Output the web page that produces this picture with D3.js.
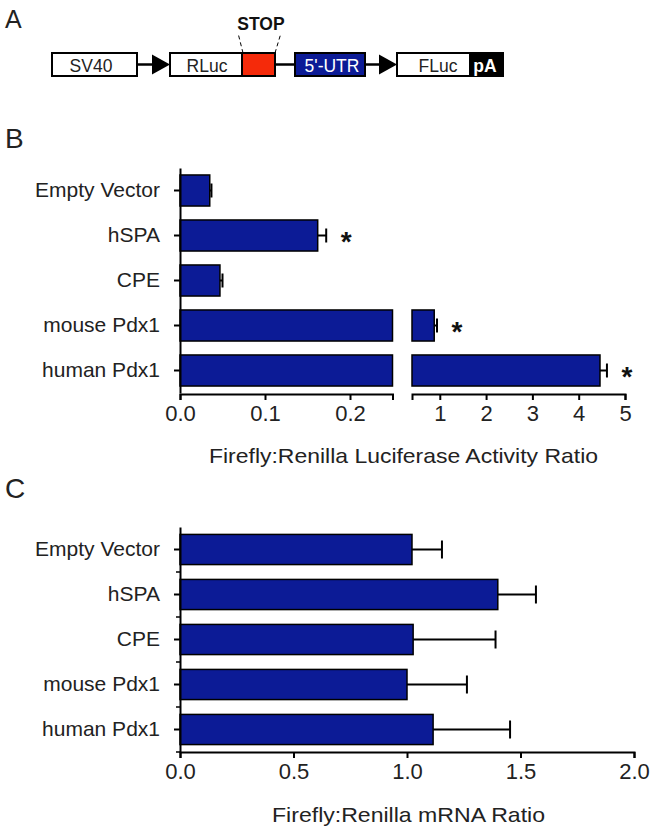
<!DOCTYPE html>
<html><head><meta charset="utf-8">
<script src="https://cdn.jsdelivr.net/npm/d3@7"></script>
<style>body{margin:0;background:#fff}svg{display:block;font-family:"Liberation Sans",Arial,sans-serif}</style>
</head><body><svg id="c" width="656" height="830"></svg>
<script>
const categories = ["Empty Vector","hSPA","CPE","mouse Pdx1","human Pdx1"];
const activityMean = [0.035, 0.162, 0.047, 0.88, 4.46];
const activityErr  = [0.002, 0.010, 0.003, 0.06, 0.15];
const activitySig  = [false, true, false, true, true];
const activityTicksLow = [0.0, 0.1, 0.2];
const activityTicksHigh = [1, 2, 3, 4, 5];
const mrnaMean = [1.022, 1.40, 1.027, 1.00, 1.115];
const mrnaErr  = [0.132, 0.168, 0.363, 0.264, 0.339];
const mrnaTicks = [0.0, 0.5, 1.0, 1.5, 2.0];
const constructParts = ["SV40","RLuc","STOP","5'-UTR","FLuc","pA"];

const BLUE = "#0c1b96";
const svg = d3.select("#c");

// Panel labels
[["A",5,28,25],["B",5,148,28],["C",5,498,28]].forEach(([t,x,y,s])=>{
  svg.append("text").attr("x",x).attr("y",y).attr("font-size",s).attr("fill","#222").text(t);
});

// ---------- Panel A: construct ----------
const A = svg.append("g");
const by0 = 53, by1 = 76, bym = (by0+by1)/2;
function line(x1,y1,x2,y2,w=2.5,dash=null){
  const l=A.append("line").attr("x1",x1).attr("y1",y1).attr("x2",x2).attr("y2",y2).attr("stroke","#000").attr("stroke-width",w);
  if(dash) l.attr("stroke-dasharray",dash);
}
function box(x0,x1,fill){A.append("rect").attr("x",x0).attr("y",by0).attr("width",x1-x0).attr("height",by1-by0).attr("fill",fill).attr("stroke","#000").attr("stroke-width",2);}
function label(t,x,fill,size=17.5,bold=false){A.append("text").attr("x",x).attr("y",bym+7).attr("text-anchor","middle").attr("font-size",size).attr("font-weight",bold?"bold":"normal").attr("fill",fill).text(t);}
function arrow(x0,x1){
  line(x0,bym,x1-14,bym);
  A.append("path").attr("d",`M${x1-18},${bym-10}L${x1},${bym}L${x1-18},${bym+10}Z`).attr("fill","#000");
}
arrow(137,170);
arrow(365,397);
line(275,bym,295,bym);
box(52,137,"#fff"); label(constructParts[0],91,"#222");
box(170,242,"#fff"); label(constructParts[1],207,"#222");
box(242,275,"#f52a0a");
box(295,365,"#0c1b96"); label(constructParts[3],332,"#fff");
box(397,470,"#fff"); label(constructParts[4],438,"#222");
A.append("rect").attr("x",470).attr("y",by0).attr("width",33).attr("height",by1-by0).attr("fill","#000").attr("stroke","#000").attr("stroke-width",2);
label(constructParts[5],485,"#fff",17.5,true);
line(243,by0,238,33,1,"4,3");
line(275,by0,281,33,1,"4,3");
A.append("text").attr("x",261).attr("y",30).attr("text-anchor","middle").attr("font-size",17.5).attr("font-weight","bold").attr("fill","#111").text(constructParts[2]);

// ---------- Panel B ----------
const yB = d3.scaleBand().domain(categories).range([168,393]).paddingInner(0.31).paddingOuter(0.155);
const xLow = d3.scaleLinear().domain([0,0.25]).range([180,392.5]);
const xHigh = d3.scaleLinear().domain([0.4,5]).range([412,625]);
const gB = svg.append("g");

categories.forEach((c,i)=>{
  const v = activityMean[i], e = activityErr[i];
  const y = yB(c), h = yB.bandwidth(), cy = y+h/2;
  const lowEnd = xLow(Math.min(v,0.25));
  gB.append("rect").attr("x",xLow(0)).attr("y",y).attr("width",lowEnd-xLow(0)).attr("height",h)
    .attr("fill",BLUE).attr("stroke","#000").attr("stroke-width",1.5);
  let ex0, ex1;
  if (v > 0.25) {
    gB.append("rect").attr("x",xHigh(0.4)).attr("y",y).attr("width",xHigh(v)-xHigh(0.4)).attr("height",h)
      .attr("fill",BLUE).attr("stroke","#000").attr("stroke-width",1.5);
    ex0 = xHigh(v); ex1 = xHigh(v+e);
  } else { ex0 = xLow(v); ex1 = xLow(v+e); }
  gB.append("line").attr("x1",ex0).attr("x2",ex1).attr("y1",cy).attr("y2",cy).attr("stroke","#000").attr("stroke-width",2);
  gB.append("line").attr("x1",ex1).attr("x2",ex1).attr("y1",cy-7).attr("y2",cy+7).attr("stroke","#000").attr("stroke-width",2);
  if (activitySig[i]) {
    gB.append("text").attr("x",ex1+20).attr("y",cy+15).attr("text-anchor","middle")
      .attr("font-size",28).attr("font-weight","bold").attr("fill","#111").text("*");
  }
});

function styleAxis(g, fs){
  g.selectAll("path,line").attr("stroke","#000").attr("stroke-width",2);
  g.selectAll("text").attr("font-size",fs).attr("fill","#222").attr("font-family","Liberation Sans, Arial, sans-serif");
}
const axL = gB.append("g").attr("transform","translate(0,394)")
  .call(d3.axisBottom(xLow).tickValues(activityTicksLow).tickFormat(d3.format(".1f")).tickSize(6).tickSizeOuter(6).tickPadding(5));
styleAxis(axL,22);
const axH = gB.append("g").attr("transform","translate(0,394)")
  .call(d3.axisBottom(xHigh).tickValues(activityTicksHigh).tickFormat(d3.format("d")).tickSize(6).tickSizeOuter(6).tickPadding(5));
styleAxis(axH,22);
const ayB = gB.append("g").attr("transform","translate(180,0)")
  .call(d3.axisLeft(yB).tickSize(6).tickSizeOuter(0).tickPadding(14));
styleAxis(ayB,21);
gB.append("text").attr("x",403.5).attr("y",463).attr("text-anchor","middle").attr("font-size",21).attr("fill","#222")
  .attr("textLength",389).attr("lengthAdjust","spacingAndGlyphs")
  .text("Firefly:Renilla Luciferase Activity Ratio");

// ---------- Panel C ----------
const yC = d3.scaleBand().domain(categories).range([527,752]).paddingInner(0.33).paddingOuter(0.165);
const xC = d3.scaleLinear().domain([0,2]).range([180,634]);
const gC = svg.append("g");
categories.forEach((c,i)=>{
  const v = mrnaMean[i], e = mrnaErr[i];
  const y = yC(c), h = yC.bandwidth(), cy = y+h/2;
  gC.append("line").attr("x1",xC(v)).attr("x2",xC(v+e)).attr("y1",cy).attr("y2",cy).attr("stroke","#000").attr("stroke-width",2);
  gC.append("line").attr("x1",xC(v+e)).attr("x2",xC(v+e)).attr("y1",cy-9).attr("y2",cy+9).attr("stroke","#000").attr("stroke-width",2);
  gC.append("rect").attr("x",xC(0)).attr("y",y).attr("width",xC(v)-xC(0)).attr("height",h)
    .attr("fill",BLUE).attr("stroke","#000").attr("stroke-width",1.5);
});
// minor ticks at band boundaries
categories.forEach((c,i)=>{
  const yb = yC(c)+yC.bandwidth()+ (yC.step()-yC.bandwidth())/2;
  gC.append("line").attr("x1",176).attr("x2",180).attr("y1",yb).attr("y2",yb).attr("stroke","#000").attr("stroke-width",1.5);
});
const axC = gC.append("g").attr("transform","translate(0,752)")
  .call(d3.axisBottom(xC).tickValues(mrnaTicks).tickFormat(d3.format(".1f")).tickSize(6).tickSizeOuter(6).tickPadding(5));
styleAxis(axC,22);
const ayC = gC.append("g").attr("transform","translate(180,0)")
  .call(d3.axisLeft(yC).tickSize(6).tickSizeOuter(0).tickPadding(14));
styleAxis(ayC,21);
gC.append("text").attr("x",408.5).attr("y",822).attr("text-anchor","middle").attr("font-size",21).attr("fill","#222")
  .attr("textLength",273).attr("lengthAdjust","spacingAndGlyphs")
  .text("Firefly:Renilla mRNA Ratio");
</script></body></html>
